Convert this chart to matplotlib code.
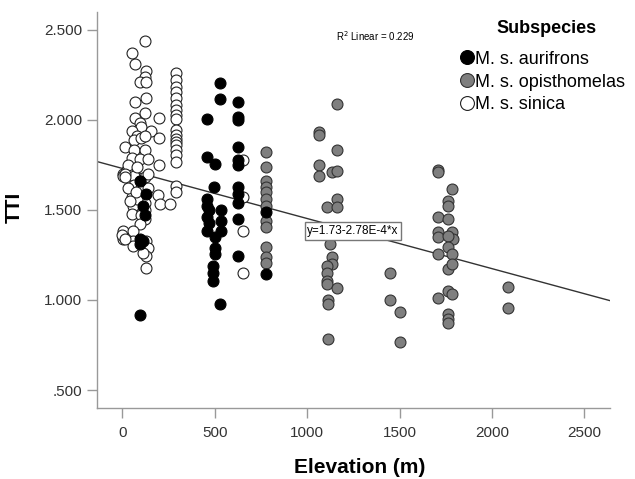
import numpy as np
import matplotlib.pyplot as plt
from matplotlib.lines import Line2D

plt.rcParams['font.family'] = ['Liberation Sans', 'DejaVu Sans']

# M. s. aurifrons (black)
aur_elev = [94, 130, 110, 120, 94, 94, 110, 94,
            527, 527, 455, 455, 500, 495, 455, 455, 455, 470, 536, 536, 536, 455, 470,
            500, 500, 500, 490, 490, 490, 527,
            626, 626, 626, 626, 626, 626, 626, 626, 626, 626, 626,
            776, 776]
aur_tti = [1.66, 1.59, 1.52, 1.47, 1.34, 1.31, 1.33, 0.916,
           2.206, 2.113, 2.007, 1.793, 1.752, 1.626, 1.56, 1.52, 1.46, 1.50, 1.50, 1.44, 1.385, 1.385, 1.43,
           1.347, 1.29, 1.255, 1.19, 1.152, 1.106, 0.976,
           2.10, 2.016, 1.998, 1.849, 1.775, 1.75, 1.626, 1.589, 1.54, 1.45, 1.245,
           1.487, 1.143]

# M. s. opisthomelas (grey)
opi_elev = [776] * 12 + \
           [1159, 1065, 1065, 1159, 1065, 1065, 1132, 1159, 1159, 1108, 1159, 1123, 1132, 1132,
            1108, 1108, 1108, 1108, 1159, 1113, 1113, 1110] + \
           [1448, 1448, 1502, 1502] + \
           [1710, 1710, 1782, 1764, 1764, 1710, 1764, 1710, 1710, 1782, 1791, 1764, 1764, 1710, 1782,
            1764, 1782, 1764, 1782, 1710, 1764, 1764, 1764] + \
           [2086, 2086]
opi_tti = [1.821, 1.737, 1.663, 1.626, 1.598, 1.561, 1.524, 1.44, 1.403, 1.292, 1.236, 1.208] + \
          [2.087, 1.933, 1.918, 1.834, 1.75, 1.686, 1.71, 1.715, 1.561, 1.514, 1.518, 1.31, 1.236, 1.199,
           1.19, 1.152, 1.106, 1.088, 1.069, 0.998, 0.976, 0.781] + \
          [1.152, 0.998, 0.935, 0.768] + \
          [1.723, 1.71, 1.617, 1.552, 1.524, 1.459, 1.45, 1.375, 1.347, 1.375, 1.338, 1.357, 1.292, 1.255, 1.255,
           1.171, 1.199, 1.05, 1.035, 1.013, 0.92, 0.892, 0.873] + \
          [1.074, 0.954]

# M. s. sinica (open)
sin_elev = [121, 54, 67, 126, 121, 94, 130, 126, 67, 121, 67, 198, 94, 103, 49, 157, 80, 60, 100, 121,
            198, 12, 60, 121, 49, 94, 140, 198, 3, 22, 3, 60, 121, 94, 60, 49, 57, 49, 121, 121,
            121, 121, 80, 100, 94, 193, 202, 256, 3, 3, 57, 57, 130, 139, 57, 130, 126, 30, 100, 75,
            140, 30, 140, 80, 12, 12, 0, 12, 110, 40] + \
           [292] * 19 + [650] * 4
sin_tti = [2.44, 2.37, 2.31, 2.27, 2.24, 2.21, 2.21, 2.12, 2.10, 2.04, 2.01, 2.01, 1.98, 1.96, 1.94, 1.94, 1.91, 1.89, 1.90, 1.91,
           1.90, 1.85, 1.83, 1.83, 1.79, 1.78, 1.78, 1.75, 1.70, 1.72, 1.69, 1.69, 1.68, 1.66, 1.64, 1.57, 1.52, 1.48, 1.59, 1.54,
           1.50, 1.45, 1.56, 1.47, 1.42, 1.58, 1.53, 1.53, 1.385, 1.34, 1.385, 1.33, 1.33, 1.29, 1.30, 1.245, 1.18, 1.62, 1.62, 1.60,
           1.62, 1.75, 1.70, 1.74, 1.70, 1.68, 1.36, 1.34, 1.26, 1.55] + \
          [2.258, 2.221, 2.183, 2.156, 2.119, 2.081, 2.054, 2.026, 2.007, 1.942, 1.914, 1.896, 1.877,
           1.858, 1.831, 1.803, 1.765, 1.635, 1.598] + \
          [1.775, 1.57, 1.385, 1.152]

# fit line y = a + b*x
fit_a = 1.73
fit_b = -2.78e-4
r2 = 0.229

xticks = [0, 500, 1000, 1500, 2000, 2500]
yticks = [0.5, 1.0, 1.5, 2.0, 2.5]
yticklabels = ['.500', '1.000', '1.500', '2.000', '2.500']

fig = plt.figure(figsize=(6.35, 4.79), dpi=100)
ax = fig.add_axes([0.153, 0.148, 0.808, 0.8276])

ms = 62
ax.scatter(sin_elev, sin_tti, s=ms, facecolor='white', edgecolor='#222222', linewidth=0.8, zorder=3)
ax.scatter(opi_elev, opi_tti, s=ms, facecolor='#7f7f7f', edgecolor='#333333', linewidth=0.8, zorder=3)
ax.scatter(aur_elev, aur_tti, s=ms, facecolor='black', edgecolor='black', linewidth=0.8, zorder=3)

xlim = (-137, 2640)
ax.set_xlim(xlim)
ax.set_ylim(0.4, 2.6)
xx = np.array(xlim)
ax.plot(xx, fit_a + fit_b * xx, color='#333333', lw=1.0, zorder=2)

# equation label on the line
xe = 1248
ax.text(xe, fit_a + fit_b * xe, 'y=1.73-2.78E-4*x', fontsize=8.5, ha='center', va='center', zorder=5,
        bbox=dict(boxstyle='square,pad=0.22', facecolor='white', edgecolor='#777777', linewidth=1))
ax.text(0.542, 0.939, r'R$^2$ Linear = ' + f'{r2:.3f}', transform=ax.transAxes,
        fontsize=7, ha='center', va='center')

ax.set_xticks(xticks)
ax.set_yticks(yticks)
ax.set_yticklabels(yticklabels)
for s in ['top', 'right']:
    ax.spines[s].set_visible(False)
for s in ['left', 'bottom']:
    ax.spines[s].set_color('#999999')
    ax.spines[s].set_linewidth(1.0)
ax.tick_params(axis='x', length=7, width=1, color='#999999', labelsize=11, labelcolor='#333333', pad=6)
ax.tick_params(axis='y', length=7.5, width=1, color='#999999', labelsize=11, labelcolor='#333333', pad=3.5)

ax.set_xlabel('Elevation (m)', fontsize=15, fontweight='bold')
ax.set_ylabel('TTI', fontsize=15, fontweight='bold')
ax.xaxis.set_label_coords(0.512, -0.125)
ax.yaxis.set_label_coords(-0.143, 0.507)

handles = [
    Line2D([], [], ls='none', marker='o', ms=10, mfc='black', mec='black', mew=0.8),
    Line2D([], [], ls='none', marker='o', ms=10, mfc='#7f7f7f', mec='#333333', mew=0.8),
    Line2D([], [], ls='none', marker='o', ms=10, mfc='white', mec='#222222', mew=0.8),
]
labels = ['M. s. aurifrons', 'M. s. opisthomelas', 'M. s. sinica']
fig.text(0.86, 0.9415, 'Subspecies', fontsize=13, fontweight='bold', ha='center', va='center')
leg = ax.legend(handles, labels, loc='upper left',
                bbox_to_anchor=(0.718, 0.902), bbox_transform=fig.transFigure,
                frameon=False, fontsize=13, handletextpad=0.05, handlelength=0.8,
                labelspacing=0.33, borderpad=0.2, borderaxespad=0)

fig.savefig('out.png', dpi=100)
